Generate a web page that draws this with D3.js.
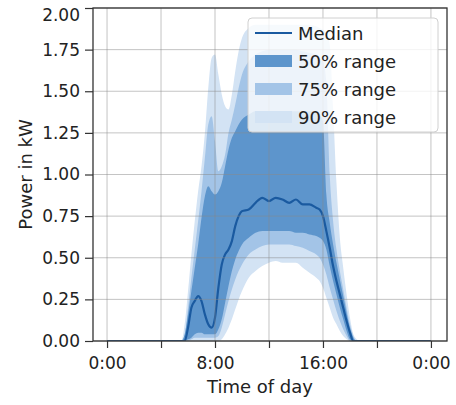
<!DOCTYPE html>
<html>
<head>
<meta charset="utf-8">
<script src="https://cdn.jsdelivr.net/npm/d3@7"></script>
<style>
  html, body { margin: 0; padding: 0; background: #fff; }
  svg { display: block; font-family: "DejaVu Sans", sans-serif; }
</style>
</head>
<body>
<svg id="chart"></svg>
<script>
// hour of day for every sample
const hours  = [0, 5.5, 5.75, 6, 6.25, 6.5, 6.75, 7, 7.25, 7.5, 7.75, 8, 8.25, 8.5, 8.75, 9, 9.25, 9.5, 9.75,
                10, 10.5, 11, 11.5, 12, 12.5, 13, 13.5, 14, 14.5, 15, 15.5, 15.75,
                16, 16.25, 16.5, 16.75, 17, 17.25, 17.5, 17.75, 18, 18.25, 18.5, 18.75, 24];
const median = [0, 0, 0, 0.08, 0.2, 0.24, 0.27, 0.24, 0.16, 0.1, 0.08, 0.14, 0.32, 0.46, 0.52, 0.55, 0.6, 0.69, 0.75,
                0.78, 0.79, 0.83, 0.86, 0.84, 0.86, 0.85, 0.83, 0.85, 0.82, 0.82, 0.8, 0.79,
                0.75, 0.66, 0.56, 0.45, 0.36, 0.28, 0.2, 0.12, 0.05, 0, 0, 0, 0];
const p25    = [0, 0, 0, 0.01, 0.02, 0.04, 0.05, 0.05, 0.04, 0.04, 0.04, 0.04, 0.07, 0.13, 0.23, 0.33, 0.42, 0.49, 0.54,
                0.58, 0.62, 0.65, 0.66, 0.66, 0.66, 0.66, 0.66, 0.65, 0.65, 0.64, 0.63, 0.62,
                0.6, 0.55, 0.45, 0.36, 0.28, 0.2, 0.13, 0.06, 0.01, 0, 0, 0, 0];
const p75    = [0, 0, 0.04, 0.16, 0.3, 0.44, 0.58, 0.74, 0.87, 0.93, 0.9, 0.88, 0.9, 0.95, 1.05, 1.15, 1.22, 1.26, 1.3,
                1.33, 1.36, 1.38, 1.38, 1.38, 1.38, 1.38, 1.38, 1.38, 1.38, 1.38, 1.38, 1.36,
                1.32, 0.88, 0.71, 0.58, 0.47, 0.37, 0.27, 0.17, 0.08, 0.02, 0, 0, 0];
const p12    = [0, 0, 0, 0, 0.01, 0.02, 0.02, 0.02, 0.02, 0.02, 0.02, 0.02, 0.03, 0.08, 0.16, 0.24, 0.31, 0.37, 0.42,
                0.46, 0.52, 0.55, 0.57, 0.58, 0.58, 0.58, 0.58, 0.57, 0.56, 0.54, 0.52, 0.5,
                0.46, 0.4, 0.32, 0.25, 0.18, 0.12, 0.07, 0.03, 0, 0, 0, 0, 0];
const p87    = [0, 0, 0.03, 0.2, 0.38, 0.55, 0.72, 0.9, 1.1, 1.3, 1.35, 1.2, 1.02, 1.05, 1.12, 1.25, 1.33, 1.42, 1.52,
                1.6, 1.68, 1.72, 1.74, 1.75, 1.75, 1.75, 1.75, 1.75, 1.74, 1.73, 1.72, 1.7,
                1.68, 1.55, 1.0, 0.72, 0.55, 0.42, 0.31, 0.2, 0.1, 0.03, 0, 0, 0];
const p05    = [0, 0, 0, 0, 0, 0, 0, 0, 0, 0, 0, 0, 0, 0.01, 0.04, 0.08, 0.13, 0.19, 0.25,
                0.3, 0.38, 0.42, 0.45, 0.47, 0.48, 0.47, 0.47, 0.47, 0.44, 0.41, 0.38, 0.36,
                0.32, 0.26, 0.2, 0.14, 0.1, 0.06, 0.03, 0.01, 0, 0, 0, 0, 0];
const p95    = [0, 0, 0.1, 0.3, 0.52, 0.72, 0.9, 1.05, 1.25, 1.52, 1.7, 1.72, 1.6, 1.48, 1.41, 1.39, 1.48, 1.62, 1.74,
                1.82, 1.88, 1.9, 1.9, 1.9, 1.9, 1.9, 1.9, 1.9, 1.9, 1.9, 1.89, 1.88,
                1.87, 1.85, 1.78, 1.4, 0.95, 0.62, 0.44, 0.28, 0.14, 0.04, 0.01, 0, 0];

const xTicks = [0, 4, 8, 12, 16, 20, 24];
const yTicks = [0, 0.25, 0.5, 0.75, 1, 1.25, 1.5, 1.75, 2];
const legendItems = ["Median", "50% range", "75% range", "90% range"];

const W = 456, H = 405;
const margin = {top: 8, right: 9, bottom: 64, left: 93};
const width  = W - margin.left - margin.right;
const height = H - margin.top - margin.bottom;

const colMedian = "#1a5aa0", col50 = "#5d95cc", col75 = "#a3c4e7", col90 = "#d3e3f4";

const svg = d3.select("#chart").attr("width", W).attr("height", H);
const g = svg.append("g").attr("transform", "translate(" + margin.left + "," + margin.top + ")");

const x = d3.scaleLinear().domain([-1.04, 25.19]).range([0, width]);
const y = d3.scaleLinear().domain([0, 2]).range([height, 0]);

svg.append("defs").append("clipPath").attr("id", "clip")
  .append("rect").attr("width", width).attr("height", height);

const rows = hours.map((h, i) => ({h: h, med: median[i], a: p25[i], b: p75[i],
  c: p12[i], d: p87[i], e: p05[i], f: p95[i]}));

function band(lo, hi) {
  return d3.area().curve(d3.curveMonotoneX)
    .x(d => x(d.h)).y0(d => y(d[lo])).y1(d => y(d[hi]));
}

const plot = g.append("g").attr("clip-path", "url(#clip)");
plot.append("path").datum(rows).attr("fill", col90).attr("d", band("e", "f"));
plot.append("path").datum(rows).attr("fill", col75).attr("d", band("c", "d"));
plot.append("path").datum(rows).attr("fill", col50).attr("d", band("a", "b"));

// grid
const grid = g.append("g").attr("stroke", "#8a8a8a").attr("stroke-opacity", 0.5).attr("stroke-width", 1);
grid.selectAll(".gx").data(xTicks).join("line")
  .attr("x1", d => x(d)).attr("x2", d => x(d)).attr("y1", 0).attr("y2", height);
grid.selectAll(".gy").data(yTicks).join("line")
  .attr("y1", d => y(d)).attr("y2", d => y(d)).attr("x1", 0).attr("x2", width);

plot.append("path").datum(rows)
  .attr("fill", "none").attr("stroke", colMedian).attr("stroke-width", 2.2)
  .attr("d", d3.line().curve(d3.curveMonotoneX).x(d => x(d.h)).y(d => y(d.med)));

// axes
const xAxis = d3.axisBottom(x).tickValues(xTicks).tickSize(7).tickPadding(9)
  .tickFormat(d => d % 8 === 0 ? (d % 24) + ":00" : "");
const yAxis = d3.axisLeft(y).tickValues(yTicks).tickSize(8).tickPadding(5)
  .tickFormat(d3.format(".2f"));

g.append("g").attr("transform", "translate(0," + height + ")").call(xAxis);
const gy = g.append("g").call(yAxis);
g.selectAll(".tick text").attr("font-size", 17).attr("fill", "#222").attr("font-family", "DejaVu Sans");
g.selectAll(".tick line").attr("stroke", "#333").attr("stroke-width", 1.2);
g.selectAll(".domain").remove();
// keep the top label inside the picture
gy.selectAll(".tick text").filter(d => d === 2).attr("dy", "0.72em");

g.append("rect").attr("width", width).attr("height", height)
  .attr("fill", "none").attr("stroke", "#333").attr("stroke-width", 1.3);

// labels
svg.append("text").attr("x", 260).attr("y", 393).attr("text-anchor", "middle")
  .attr("font-size", 18).attr("fill", "#222").text("Time of day");
svg.append("text").attr("transform", "translate(32," + (margin.top + height / 2) + ") rotate(-90)")
  .attr("text-anchor", "middle").attr("font-size", 18).attr("fill", "#222").text("Power in kW");

// legend
const lg = svg.append("g").attr("transform", "translate(248,18)");
lg.append("rect").attr("width", 190).attr("height", 114).attr("rx", 4)
  .attr("fill", "#fff").attr("fill-opacity", 0.8).attr("stroke", "#d0d0d0");
const fills = [null, col50, col75, col90];
legendItems.forEach((name, i) => {
  const cy = 15 + i * 28;
  if (i === 0) {
    lg.append("line").attr("x1", 7).attr("x2", 44).attr("y1", cy).attr("y2", cy)
      .attr("stroke", colMedian).attr("stroke-width", 2.2);
  } else {
    lg.append("rect").attr("x", 7).attr("y", cy - 6).attr("width", 37).attr("height", 12)
      .attr("fill", fills[i]);
  }
  lg.append("text").attr("x", 50).attr("y", cy + 6.5).attr("font-size", 18)
    .attr("fill", "#222").text(name);
});
</script>
</body>
</html>
